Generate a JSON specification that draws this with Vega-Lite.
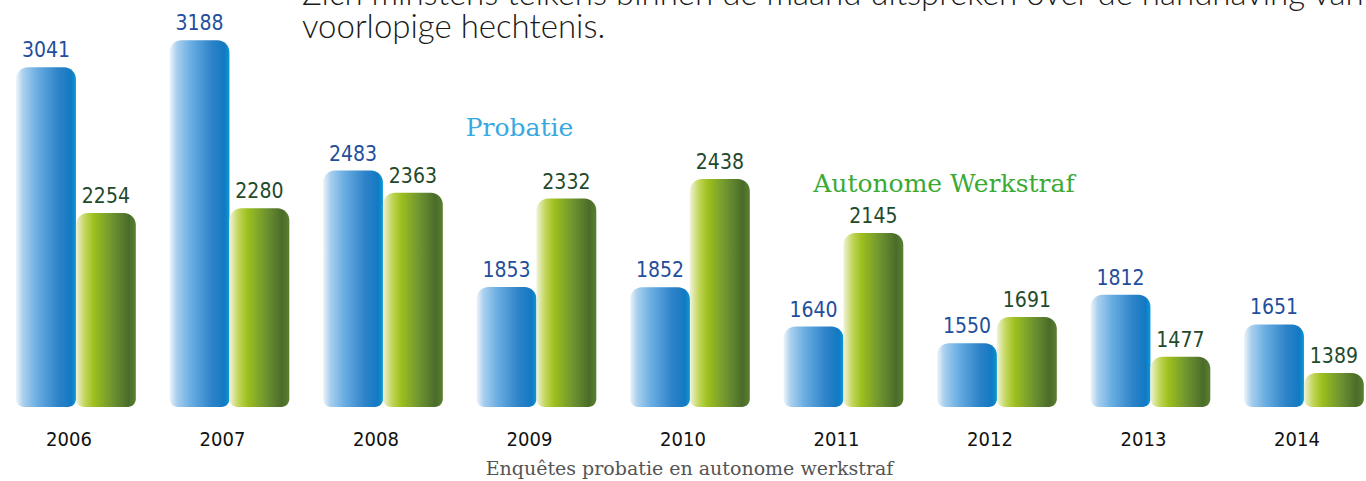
{
  "$schema": "https://vega.github.io/schema/vega-lite/v6.json",
  "width": 1366,
  "height": 407,
  "autosize": "none",
  "padding": {"left": 0, "top": 0, "right": 0, "bottom": 74},
  "background": "white",
  "config": {"view": {"stroke": null}},
  "datasets": {
    "counts": [
      {"year": "2006", "series": "Probatie", "value": 3041},
      {"year": "2006", "series": "Autonome Werkstraf", "value": 2254},
      {"year": "2007", "series": "Probatie", "value": 3188},
      {"year": "2007", "series": "Autonome Werkstraf", "value": 2280},
      {"year": "2008", "series": "Probatie", "value": 2483},
      {"year": "2008", "series": "Autonome Werkstraf", "value": 2363},
      {"year": "2009", "series": "Probatie", "value": 1853},
      {"year": "2009", "series": "Autonome Werkstraf", "value": 2332},
      {"year": "2010", "series": "Probatie", "value": 1852},
      {"year": "2010", "series": "Autonome Werkstraf", "value": 2438},
      {"year": "2011", "series": "Probatie", "value": 1640},
      {"year": "2011", "series": "Autonome Werkstraf", "value": 2145},
      {"year": "2012", "series": "Probatie", "value": 1550},
      {"year": "2012", "series": "Autonome Werkstraf", "value": 1691},
      {"year": "2013", "series": "Probatie", "value": 1812},
      {"year": "2013", "series": "Autonome Werkstraf", "value": 1477},
      {"year": "2014", "series": "Probatie", "value": 1651},
      {"year": "2014", "series": "Autonome Werkstraf", "value": 1389}
    ],
    "notes": [
      {"t": "Zich minstens telkens binnen de maand uitspreken over de handhaving van de", "kind": "body", "year": "2008", "ty": 3378},
      {"t": "voorlopige hechtenis.", "kind": "body", "year": "2008", "ty": 3200},
      {"t": "Probatie", "kind": "p", "year": "2009", "ty": 2670},
      {"t": "Autonome Werkstraf", "kind": "a", "year": "2012", "ty": 2367}
    ]
  },
  "resolve": {"scale": {"x": "shared", "y": "shared"}},
  "layer": [
    {
      "data": {"name": "counts"},
      "encoding": {
        "x": {
          "field": "year", "type": "nominal",
          "scale": {"paddingInner": 0.22, "paddingOuter": 0.0595, "align": 0.88},
          "axis": {
            "domain": false, "ticks": false, "labelAngle": 0,
            "labelPadding": 22, "labelOffset": -7,
            "labelFont": "DejaVu Sans Condensed", "labelFontSize": 20, "labelColor": "#111111",
            "title": "Enquêtes probatie en autonome werkstraf",
            "titleFont": "DejaVu Serif", "titleFontSize": 19, "titleFontWeight": "normal",
            "titleColor": "#555555", "titlePadding": 10, "titleX": 689
          }
        },
        "y": {
          "field": "value", "type": "quantitative",
          "scale": {"domain": [1205, 3405], "zero": false, "nice": false},
          "axis": null
        },
        "xOffset": {
          "field": "series", "type": "nominal",
          "scale": {"domain": ["Probatie", "Autonome Werkstraf"], "paddingInner": 0, "paddingOuter": 0}
        }
      },
      "layer": [
        {
          "transform": [{"filter": "datum.series === 'Probatie'"}],
          "mark": {
            "type": "bar",
            "cornerRadiusTopLeft": 12, "cornerRadiusTopRight": 12,
            "cornerRadiusBottomLeft": 8, "cornerRadiusBottomRight": 8,
            "color": {
              "gradient": "linear", "x1": 0, "x2": 1, "y1": 0, "y2": 0,
              "stops": [
                {"offset": 0, "color": "#eef4fa"},
                {"offset": 0.12, "color": "#a9cfee"},
                {"offset": 0.35, "color": "#6aaee2"},
                {"offset": 0.7, "color": "#2e83c9"},
                {"offset": 0.92, "color": "#1279c2"},
                {"offset": 1, "color": "#0a9ad8"}
              ]
            }
          },
          "encoding": {"y2": {"datum": 1205}}
        },
        {
          "transform": [{"filter": "datum.series === 'Autonome Werkstraf'"}],
          "mark": {
            "type": "bar",
            "cornerRadiusTopLeft": 12, "cornerRadiusTopRight": 12,
            "cornerRadiusBottomLeft": 8, "cornerRadiusBottomRight": 8,
            "color": {
              "gradient": "linear", "x1": 0, "x2": 1, "y1": 0, "y2": 0,
              "stops": [
                {"offset": 0, "color": "#f0f2d8"},
                {"offset": 0.15, "color": "#c2d65a"},
                {"offset": 0.3, "color": "#9dc01e"},
                {"offset": 0.6, "color": "#6f9530"},
                {"offset": 0.88, "color": "#4a6c2a"},
                {"offset": 1, "color": "#5b7f30"}
              ]
            }
          },
          "encoding": {"y2": {"datum": 1205}}
        },
        {
          "mark": {"type": "text", "baseline": "bottom", "dy": -6, "font": "DejaVu Sans Condensed", "fontSize": 21},
          "encoding": {
            "text": {"field": "value", "type": "quantitative", "format": "d"},
            "color": {
              "field": "series", "type": "nominal",
              "scale": {"domain": ["Probatie", "Autonome Werkstraf"], "range": ["#1f4e9c", "#1f4a2c"]},
              "legend": null
            }
          }
        }
      ]
    },
    {
      "data": {"name": "notes"},
      "transform": [{"filter": "datum.kind === 'body'"}],
      "mark": {"type": "text", "font": "Lato", "fontSize": 33, "fontWeight": 300, "color": "#1a1a1a", "align": "left", "baseline": "alphabetic", "dx": -81},
      "encoding": {
        "x": {"field": "year", "type": "nominal"},
        "y": {"field": "ty", "type": "quantitative"},
        "text": {"field": "t", "type": "nominal"}
      }
    },
    {
      "data": {"name": "notes"},
      "transform": [{"filter": "datum.kind === 'p'"}],
      "mark": {"type": "text", "font": "DejaVu Serif", "fontSize": 25, "color": "#3aa8e0", "align": "center", "baseline": "alphabetic", "dx": -17},
      "encoding": {
        "x": {"field": "year", "type": "nominal"},
        "y": {"field": "ty", "type": "quantitative"},
        "text": {"field": "t", "type": "nominal"}
      }
    },
    {
      "data": {"name": "notes"},
      "transform": [{"filter": "datum.kind === 'a'"}],
      "mark": {"type": "text", "font": "DejaVu Serif", "fontSize": 25, "color": "#3aaa35", "align": "center", "baseline": "alphabetic", "dx": -53},
      "encoding": {
        "x": {"field": "year", "type": "nominal"},
        "y": {"field": "ty", "type": "quantitative"},
        "text": {"field": "t", "type": "nominal"}
      }
    }
  ]
}
